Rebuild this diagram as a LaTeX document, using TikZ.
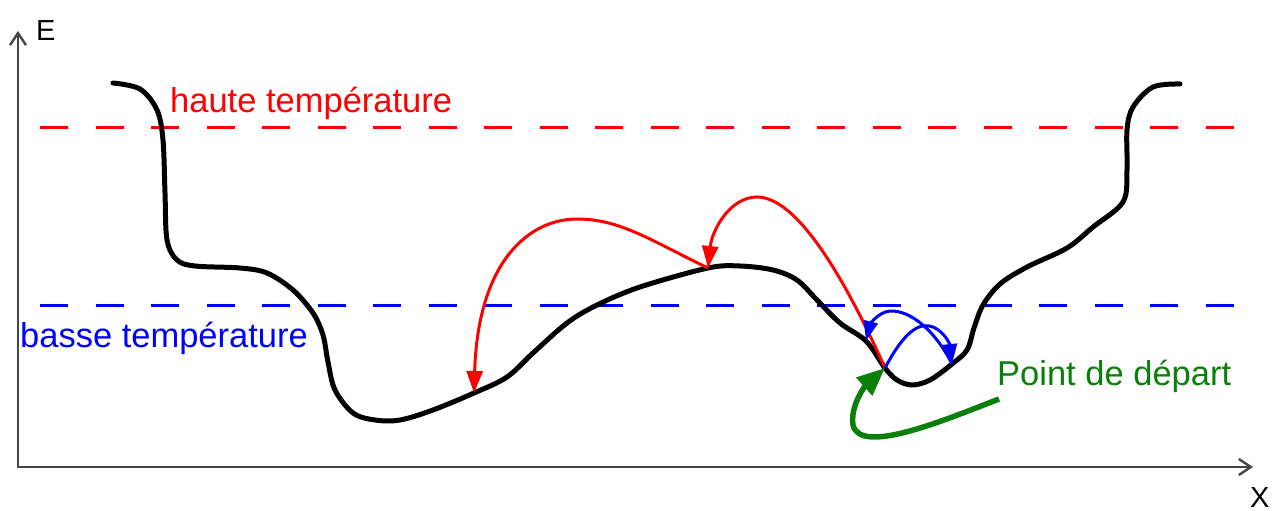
\documentclass[tikz,border=0pt]{standalone}
\usepackage{fontspec}
\setmainfont{Liberation Sans}
\usetikzlibrary{arrows.meta}
\definecolor{axisgray}{RGB}{70,70,70}
\definecolor{dgreen}{RGB}{10,128,10}
\tikzset{
  lbl/.style={inner sep=0pt, anchor=base west, font=\fontsize{34.5}{40}\selectfont},
  axlbl/.style={inner sep=0pt, anchor=base west, font=\fontsize{29}{34}\selectfont},
  axisline/.style={draw=axisgray, line width=2.2pt, {Straight Barb[length=12pt,width=16pt,line width=2.4pt]}-{Straight Barb[length=12pt,width=16pt,line width=2.4pt]}},
  level/.style={line width=3pt, dash pattern=on 28pt off 27.5pt},
  energy/.style={line width=5pt, line cap=round, line join=round},
  hop/.style={line width=3pt, -{Triangle[length=22pt,width=16pt]}},
  bhop/.style={line width=3pt, draw=blue, -{Triangle[length=20pt,width=14pt]}},
  startarrow/.style={line width=5.5pt, draw=dgreen, -{Triangle[length=28pt,width=23pt]}}
}
\begin{document}
\begin{tikzpicture}[x=1pt,y=-1pt]
\useasboundingbox (0,0) rectangle (1274,511);
% axes
\coordinate (O) at (18,467);
\coordinate (Etip) at (18,31);
\coordinate (Xtip) at (1253,467);
\draw[axisline] (Etip) -- (O) -- (Xtip);
\node[axlbl] (E) at (36,41) {E};
\node[axlbl] (X) at (1250,507) {X};
% temperature levels
\coordinate (HL) at (40,127);
\coordinate (HR) at (1240,127);
\coordinate (LL) at (40,305);
\coordinate (LR) at (1240,305);
\draw[level, red] (HL) -- (HR);
\draw[level, blue] (LL) -- (LR);
\node[lbl, text=red] (ht) at (170,112) {haute température};
\node[lbl, text=blue] (bt) at (20,347) {basse température};
\node[lbl, text=dgreen] (pd) at (997,385) {Point de départ};
% points on the energy curve
\coordinate (P2) at (474,393);
\coordinate (P1) at (708,268);
\coordinate (B2) at (866,341);
\coordinate (S) at (885,368);
\coordinate (B1) at (952,364);
\coordinate (G0) at (999,399);
% energy landscape
\draw[energy] plot[smooth, tension=0.55] coordinates {
 (113,83) (140,89) (157,110) (163,140) (165,193) (167,240) (177,260) (195,266)
 (240,268) (267,273) (293,290) (313,313) (323,335) (328,362) (335,390) (353,413)
 (375,420) (400,420) (433,410) (474,393) (507,377) (533,353) (567,323) (597,305)
 (640,287) (708,268) (740,266) (773,270) (797,280) (817,300) (840,323) (866,341)
 (885,368) (897,380) (912,385) (930,380) (952,364) (967,350) (974,328) (983,305)
 (1000,284) (1027,267) (1067,248) (1093,227) (1123,202) (1127,170) (1127,130)
 (1133,107) (1153,87) (1180,84)};
% red hops
\draw[hop, red] (S) .. controls (850,290) and (800,197) .. (757,197)
  .. controls (730,197) and (712,230) .. (P1);
\draw[hop, red] (P1) .. controls (650,240) and (620,219) .. (577,219)
  .. controls (530,219) and (478,260) .. (P2);
% blue hops
\draw[bhop] (S) .. controls (905,330) and (920,322) .. (933,327)
  .. controls (945,332) and (950,345) .. (B1);
\draw[bhop] (B1) .. controls (935,330) and (910,310) .. (890,311)
  .. controls (878,312) and (870,325) .. (B2);
% starting point arrow
\draw[startarrow] (G0) .. controls (940,422) and (860,455) .. (853,425)
  .. controls (850,405) and (866,385) .. (S);
\end{tikzpicture}
\end{document}
